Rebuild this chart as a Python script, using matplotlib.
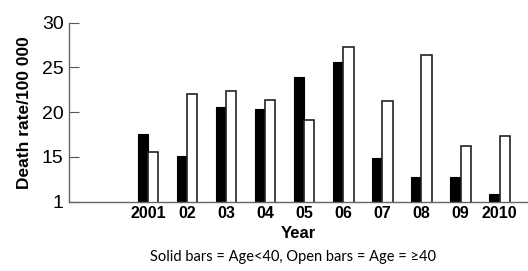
import numpy as np
import matplotlib
matplotlib.use('Agg')
import matplotlib.pyplot as plt

plt.rcParams['font.family'] = ['Liberation Sans', 'DejaVu Sans']

# ===================== 数据 =====================
years = ['2001', '02', '03', '04', '05', '06', '07', '08', '09', '2010']
under40 = [17.6, 15.1, 20.6, 20.4, 23.9, 25.6, 14.9, 12.7, 12.8, 10.9]
over40 = [15.5, 22.0, 22.4, 21.4, 19.1, 27.3, 21.2, 26.4, 16.2, 17.3]
yticks = [10, 15, 20, 25, 30]
ytick_labels = ['1', '15', '20', '25', '30']

# ===================== 绘图 =====================
fig = plt.figure(figsize=(5.28, 2.71), dpi=100)
ax = fig.add_axes([0.131, 0.256, 0.867, 0.66])

x = np.arange(len(years))
w = 0.26
ax.bar(x - w / 2, under40, width=w, color='black', edgecolor='black', linewidth=0.8)
ax.bar(x + w / 2, over40, width=w, color='white', edgecolor='#222222', linewidth=1.2)

ax.set_ylim(10, 30)
ax.set_xlim(-2.02, 9.7)
ax.set_yticks(yticks)
ax.set_yticklabels(ytick_labels, fontsize=14)
ax.set_xticks(x)
ax.set_xticklabels(years, fontsize=11.5, fontweight='bold')
ax.tick_params(axis='y', direction='in', length=7, width=0.8, color='#555555', pad=4)
ax.tick_params(axis='x', length=0, pad=3)

for s in ['top', 'right']:
    ax.spines[s].set_visible(False)
for s in ['left', 'bottom']:
    ax.spines[s].set_color('#666666')
    ax.spines[s].set_linewidth(1.0)

ax.set_ylabel('Death rate/100 000', fontsize=12.5, fontweight='bold', labelpad=7)
ax.set_xlabel('Year', fontsize=12, fontweight='bold', labelpad=4)

fig.text(0.555, 0.05, 'Solid bars = Age<40, Open bars = Age = \u226540',
         ha='center', va='center', fontsize=10.5, family=['Lato', 'DejaVu Sans'])

fig.savefig('out.png', dpi=100)
